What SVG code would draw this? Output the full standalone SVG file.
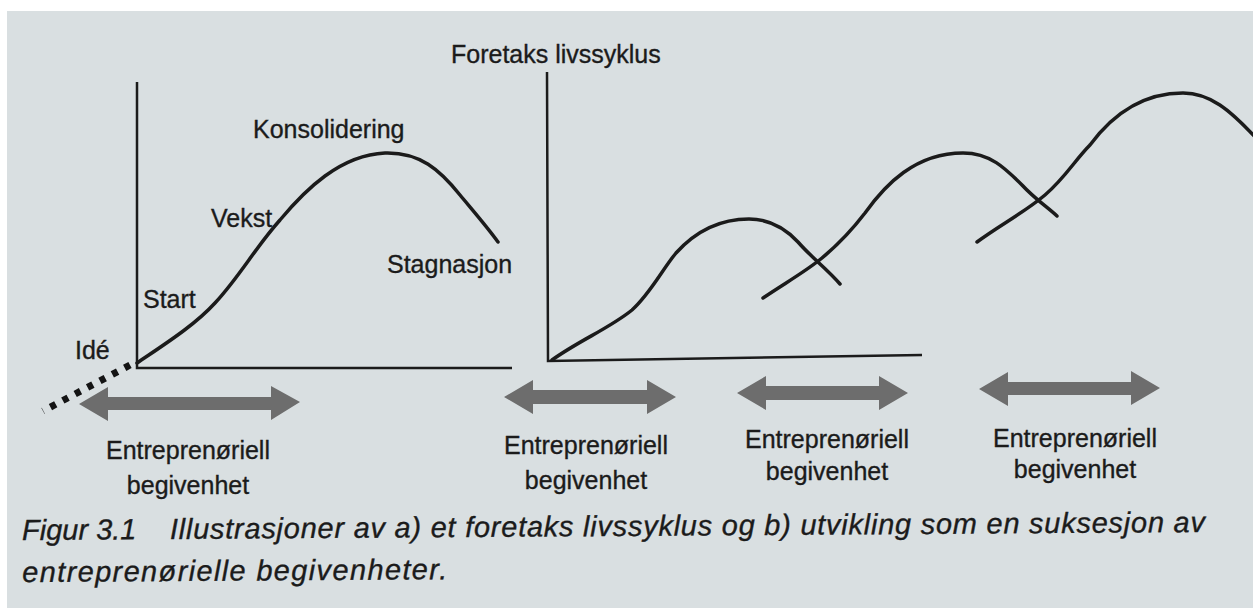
<svg xmlns="http://www.w3.org/2000/svg" width="1253" height="608" viewBox="0 0 1253 608">
<style>
.t{font-family:"Liberation Sans",Arial,sans-serif;font-size:25px;fill:#1b1b1b;stroke:#1b1b1b;stroke-width:0.35}
.m{text-anchor:middle}
.cap{font-family:"Liberation Sans",Arial,sans-serif;font-size:29px;font-style:italic;fill:#1b1b1b;stroke:#1b1b1b;stroke-width:0.35}
.ax{fill:none;stroke:#1b1b1b;stroke-width:2.5}
.cv{fill:none;stroke:#1b1b1b;stroke-width:3.5;stroke-linecap:round;stroke-linejoin:round}
.arr{fill:#6d6d6d}
.dot{fill:none;stroke:#141414;stroke-width:7;stroke-dasharray:6 8}
</style>
<rect x="0" y="0" width="1253" height="608" fill="#ffffff"/>
<rect x="7" y="11" width="1246" height="597" fill="#d9dfe1"/>

<g id="chart-a">
  <path class="ax" d="M137,82 L137,368 L512,368"/>
  <path class="cv" d="M137,363 C165,344 195,325 215,303 C240,276 255,248 280,220 C305,190 340,155 385,153 C420,152 440,170 460,195 C475,213 488,228 498,242"/>
  <text class="t" x="253" y="138">Konsolidering</text>
  <text class="t" x="211" y="227">Vekst</text>
  <text class="t" x="143" y="308">Start</text>
  <text class="t" x="75" y="359">Idé</text>
  <text class="t" x="387" y="273">Stagnasjon</text>
</g>

<g id="chart-b">
  <path class="ax" d="M547,72 L548,361 L922,355"/>
  <text class="t" x="451" y="63">Foretaks livssyklus</text>
  <path class="cv" d="M552,360 C580,340 610,328 632,310 C650,294 662,270 676,253 C695,232 718,219 749,219 C770,219 785,228 798,242 C812,258 826,268 840,284"/>
  <path class="cv" d="M763,298 C785,283 805,272 822,258 C840,243 852,230 865,213 C885,185 915,153 963,153 C990,153 1005,168 1022,185 C1035,199 1046,206 1057,216"/>
  <path class="cv" d="M977,242 C1000,225 1025,212 1045,195 C1065,178 1075,160 1090,145 C1110,118 1140,93 1183,93 C1210,93 1230,110 1256,138"/>
</g>

<g id="connectors">
  <path class="dot" d="M130,365 L43,411"/>
  <polygon class="arr" points="79,404 108,387 108,397 271,397 271,386 300,402 271,420 271,410 108,410 108,421"/>
  <polygon class="arr" points="504,397 533,380 533,390 647,390 647,380 676,397 647,414 647,404 533,404 533,414"/>
  <polygon class="arr" points="737,393 766,376 766,386 879,386 879,376 908,393 879,410 879,400 766,400 766,410"/>
  <polygon class="arr" points="979,389 1008,372 1008,382 1131,382 1131,371 1160,388 1131,405 1131,395 1008,395 1008,406"/>
</g>

<g id="label-1">
  <text class="t m" x="188" y="459">Entreprenøriell</text>
  <text class="t m" x="188" y="494">begivenhet</text>
</g>
<g id="label-2">
  <text class="t m" x="586" y="454">Entreprenøriell</text>
  <text class="t m" x="586" y="489">begivenhet</text>
</g>
<g id="label-3">
  <text class="t m" x="827" y="448">Entreprenøriell</text>
  <text class="t m" x="827" y="480">begivenhet</text>
</g>
<g id="label-4">
  <text class="t m" x="1075" y="447">Entreprenøriell</text>
  <text class="t m" x="1075" y="478">begivenhet</text>
</g>

<g id="caption" transform="rotate(-0.39 22 540)">
  <text class="cap" x="22" y="540">Figur 3.1</text>
  <text class="cap" x="170" y="540" textLength="1035">Illustrasjoner av a) et foretaks livssyklus og b) utvikling som en suksesjon av</text>
  <text class="cap" x="22" y="582" textLength="425">entreprenørielle begivenheter.</text>
</g>
</svg>
